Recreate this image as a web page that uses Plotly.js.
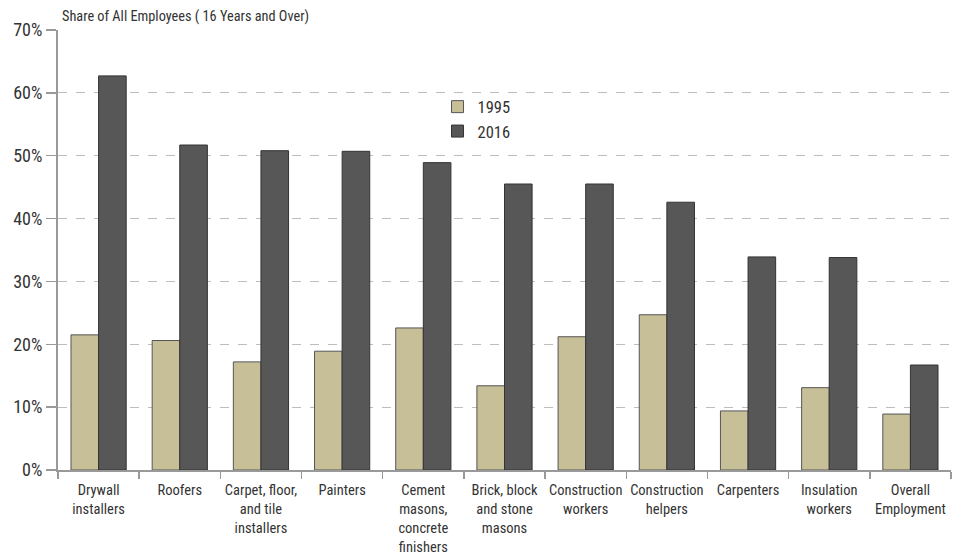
<!DOCTYPE html>
<html>
<head>
<meta charset="utf-8">
<script src="https://cdn.plot.ly/plotly-3.0.1.min.js"></script>
<style>html,body{margin:0;padding:0;background:#fff;}#chart{width:956px;height:556px;}</style>
</head>
<body>
<div id="chart"></div>
<script>
const categories = [
  "Drywall<br>installers",
  "Roofers",
  "Carpet, floor,<br>and tile<br>installers",
  "Painters",
  "Cement<br>masons,<br>concrete<br>finishers",
  "Brick, block<br>and stone<br>masons",
  "Construction<br>workers",
  "Construction<br>helpers",
  "Carpenters",
  "Insulation<br>workers",
  "Overall<br>Employment"
];
const values1995 = [21.5, 20.6, 17.2, 18.9, 22.6, 13.4, 21.2, 24.7, 9.4, 13.1, 8.9];
const values2016 = [62.7, 51.7, 50.8, 50.7, 48.9, 45.5, 45.5, 42.6, 33.9, 33.8, 16.7];
const yTickVals = [0, 10, 20, 30, 40, 50, 60, 70];
const yTickText = ["0%", "10%", "20%", "30%", "40%", "50%", "60%", "70%"];

const FONT = "'Liberation Sans Narrow', 'Roboto Condensed', Roboto, sans-serif";

const traces = [
  {type: "bar", name: "1995", x: categories, y: values1995,
   marker: {color: "#c6bf98", line: {color: "#555", width: 1}}},
  {type: "bar", name: "2016", x: categories, y: values2016,
   marker: {color: "#575757", line: {color: "#333", width: 1}}}
];

const layout = {
  width: 956, height: 556,
  margin: {l: 58, r: 5, t: 30, b: 86},
  paper_bgcolor: "#fff", plot_bgcolor: "#fff",
  font: {family: FONT, color: "#333", size: 15},
  barmode: "group", bargap: 0.32, bargroupgap: 0,
  showlegend: true,
  legend: {x: 0.425, y: 0.865, xanchor: "left", yanchor: "top",
           font: {size: 16.5, family: FONT, color: "#333"}, tracegroupgap: 0,
           itemwidth: 30, bgcolor: "rgba(0,0,0,0)"},
  xaxis: {type: "category", tickson: "boundaries", ticks: "outside", ticklen: 7,
          tickcolor: "#999", tickwidth: 1.5, showline: true, linecolor: "#999", linewidth: 2,
          showgrid: false, ticklabelstandoff: 6, tickangle: 0,
          tickfont: {size: 14.5, family: FONT, color: "#333"}},
  yaxis: {range: [0, 70], tickvals: yTickVals, ticktext: yTickText,
          ticks: "outside", ticklen: 10, tickcolor: "#999", tickwidth: 1.5,
          showline: true, linecolor: "#999", linewidth: 2,
          showgrid: true, gridcolor: "#bdbdbd", griddash: "dash", gridwidth: 1,
          zeroline: false, tickfont: {size: 18, family: FONT, color: "#333"}},
  annotations: [{text: "Share of All Employees ( 16 Years and Over)", xref: "paper", yref: "paper",
                 x: 0.002, y: 1, xanchor: "left", yanchor: "bottom", yshift: 3, showarrow: false,
                 font: {size: 14.3, family: FONT, color: "#333"}}]
};

Plotly.newPlot("chart", traces, layout, {displayModeBar: false, staticPlot: true});
</script>
</body>
</html>
